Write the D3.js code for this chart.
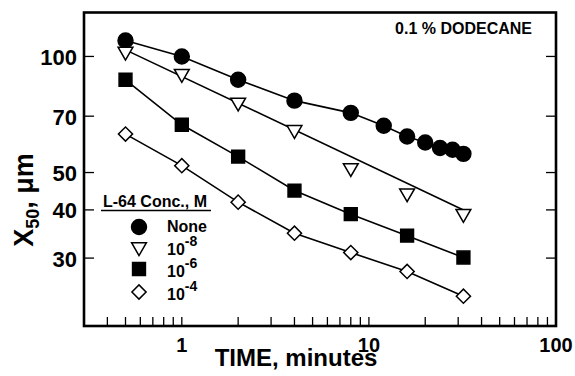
<!DOCTYPE html>
<html lang="en">
<head>
<meta charset="UTF-8">
<script src="https://d3js.org/d3.v7.min.js"></script>
<title>X50 vs time</title>
<style>
  body { margin: 0; background: #fff; }
  text { font-family: "Liberation Sans", Arial, sans-serif; font-weight: bold; fill: #000; }
</style>
</head>
<body>
<svg id="chart" width="575" height="376"></svg>
<script>
// data
var times = [0.5, 1, 2, 4, 8, 16, 32];
var noneTimes = [0.5, 1, 2, 4, 8, 12, 16, 20, 24, 28, 32];
var noneX50 = [110, 100, 87, 76.8, 71.4, 66.1, 62.0, 59.8, 57.9, 57.3, 55.9];
var m8X50 = [103, 90.2, 76.0, 64.5, 51.4, 44.2, 39.1];
var m6X50 = [87.0, 66.5, 55.0, 44.9, 39.0, 34.3, 30.1];
var m4X50 = [62.9, 52.1, 41.9, 34.8, 31.0, 27.7, 23.9];
// straight fit drawn for the 10^-8 series
var m8FitTimes = [0.5, 32];
var m8FitX50 = [104, 40];

var xTickLabels = [1, 10, 100];
var xMinorTicks = [0.4, 0.5, 0.6, 0.7, 0.8, 0.9, 2, 3, 4, 5, 6, 7, 8, 9, 20, 30, 40, 50, 60, 70, 80, 90];
var yTickLabels = [30, 40, 50, 70, 100];

var svg = d3.select('#chart');
var pLeft = 84, pRight = 556, pTop = 12.5, pBottom = 326;

var x = d3.scaleLog().domain([0.3, 100]).range([pLeft, pRight]);
var y = d3.scaleLog().domain([20, 130]).range([pBottom, pTop]);

function pts(ts, vs) {
    return ts.map(function(t, i){ return [t, vs[i]]; });
}
var line = d3.line()
    .x(function(d){ return x(d[0]); })
    .y(function(d){ return y(d[1]); });

// ticks (inward)
var tickLen = 9;
var g = svg.append('g');
xTickLabels.concat(xMinorTicks).forEach(function(t){
    if (t >= 100) return;
    g.append('line')
        .attr('x1', x(t)).attr('x2', x(t))
        .attr('y1', pBottom).attr('y2', pBottom - tickLen)
        .attr('stroke', '#000').attr('stroke-width', 1.3);
});
yTickLabels.forEach(function(v){
    g.append('line')
        .attr('x1', pLeft).attr('x2', pLeft + tickLen + 1)
        .attr('y1', y(v)).attr('y2', y(v))
        .attr('stroke', '#000').attr('stroke-width', 1.3);
    g.append('line')
        .attr('x1', pRight).attr('x2', pRight - tickLen - 1)
        .attr('y1', y(v)).attr('y2', y(v))
        .attr('stroke', '#000').attr('stroke-width', 1.3);
});

svg.selectAll('.xlab')
    .data(xTickLabels)
    .enter().append('text')
    .attr('x', function(d){ return x(d); })
    .attr('y', 352)
    .attr('text-anchor', 'middle')
    .style('font-size', '20px')
    .text(function(d){ return d; });

svg.selectAll('.ylab')
    .data(yTickLabels)
    .enter().append('text')
    .attr('x', 77)
    .attr('y', function(d){ return y(d) + 8.5; })
    .attr('text-anchor', 'end')
    .style('font-size', '22px')
    .text(function(d){ return d; });

// frame
svg.append('rect')
    .attr('x', pLeft).attr('y', pTop)
    .attr('width', pRight - pLeft).attr('height', pBottom - pTop)
    .attr('fill', 'none').attr('stroke', '#000').attr('stroke-width', 2.6);

// lines
var lineData = [
    pts(noneTimes, noneX50),
    pts(m8FitTimes, m8FitX50),
    pts(times, m6X50),
    pts(times, m4X50)
];
svg.selectAll('.fit')
    .data(lineData)
    .enter().append('path')
    .attr('d', line)
    .attr('fill', 'none')
    .attr('stroke', '#000')
    .attr('stroke-width', 1.6);

// markers
var series = [
    { data: pts(noneTimes, noneX50), type: d3.symbolCircle, size: 175, fill: '#000', rot: 0 },
    { data: pts(times, m8X50), type: d3.symbolTriangle, size: 95, fill: '#fff', rot: 180 },
    { data: pts(times, m6X50), type: d3.symbolSquare, size: 165, fill: '#000', rot: 0 },
    { data: pts(times, m4X50), type: d3.symbolSquare, size: 100, fill: '#fff', rot: 45 }
];
series.forEach(function(s){
    var sym = d3.symbol().type(s.type).size(s.size);
    svg.append('g').selectAll('path')
        .data(s.data)
        .enter().append('path')
        .attr('d', sym)
        .attr('transform', function(d){
            return 'translate(' + x(d[0]) + ',' + y(d[1]) + ') rotate(' + s.rot + ')';
        })
        .attr('fill', s.fill)
        .attr('stroke', '#000')
        .attr('stroke-width', 1.5);
});

// annotation
svg.append('text')
    .attr('x', 532).attr('y', 34)
    .attr('text-anchor', 'end')
    .style('font-size', '16px')
    .text('0.1 % DODECANE');

// legend
var legendLabels = ['None', '10', '10', '10'];
var legendExp = ['', '-8', '-6', '-4'];
var legendY = [227, 247, 269, 292];
var lg = svg.append('g');
lg.append('text')
    .attr('x', 103).attr('y', 207)
    .style('font-size', '16px')
    .text('L-64 Conc., M');
lg.append('line')
    .attr('x1', 101).attr('x2', 211)
    .attr('y1', 210.5).attr('y2', 210.5)
    .attr('stroke', '#000').attr('stroke-width', 1.3);
series.forEach(function(s, i){
    lg.append('path')
        .attr('d', d3.symbol().type(s.type).size(s.size)())
        .attr('transform', 'translate(139,' + legendY[i] + ') rotate(' + s.rot + ')')
        .attr('fill', s.fill)
        .attr('stroke', '#000')
        .attr('stroke-width', 1.5);
    var t = lg.append('text')
        .attr('x', 167)
        .attr('y', legendY[i] + (i == 0 ? 5 : 8))
        .style('font-size', '16px')
        .text(legendLabels[i]);
    if (legendExp[i]) {
        t.append('tspan')
            .attr('dy', -9)
            .style('font-size', '14px')
            .text(legendExp[i]);
    }
});

// axis titles
svg.append('text')
    .attr('x', 296).attr('y', 366)
    .attr('text-anchor', 'middle')
    .style('font-size', '24px')
    .text('TIME, minutes');

var yt = svg.append('text')
    .attr('transform', 'translate(33,200) rotate(-90)')
    .attr('text-anchor', 'middle')
    .style('font-size', '27px');
yt.append('tspan').text('X');
yt.append('tspan').attr('dy', 6).style('font-size', '18px').text('50');
yt.append('tspan').attr('dy', -6).text(', μm');
</script>
</body>
</html>
